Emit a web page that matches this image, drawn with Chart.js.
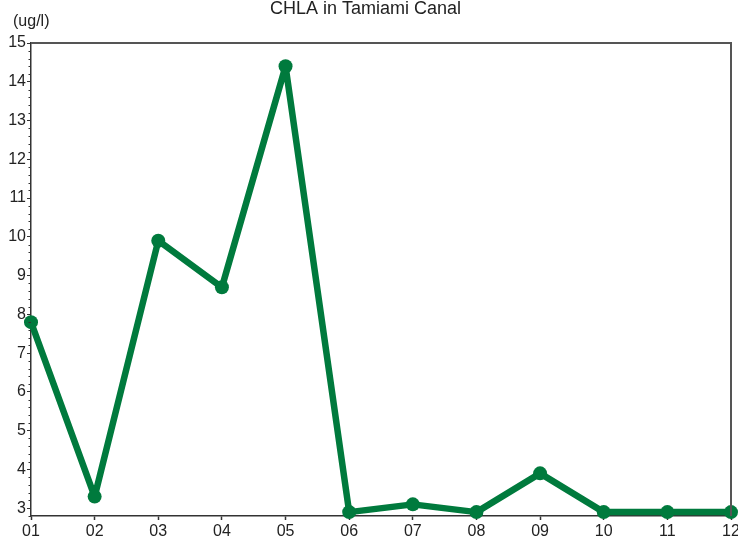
<!DOCTYPE html>
<html>
<head>
<meta charset="utf-8">
<script src="https://cdn.jsdelivr.net/npm/chart.js@4.4.1/dist/chart.umd.min.js"></script>
<style>
html,body{margin:0;padding:0;background:#fff;}
#wrap{width:738px;height:540px;}
</style>
</head>
<body>
<div id="wrap"><canvas id="c" width="738" height="540"></canvas></div>
<script>
const months = ["01","02","03","04","05","06","07","08","09","10","11","12"];
const chla = [7.8, 3.3, 9.9, 8.7, 14.4, 2.9, 3.1, 2.9, 3.9, 2.9, 2.9, 2.9];
const yTicks = [3,4,5,6,7,8,9,10,11,12,13,14,15];
const titleText = "CHLA in Tamiami Canal";
const unitText = "(ug/l)";

const frame = {
  id:'frame',
  afterDraw(chart){
    const {ctx, chartArea:a, scales:{y}} = chart;
    ctx.save();
    ctx.strokeStyle = '#555';
    ctx.lineWidth = 2;
    ctx.beginPath();
    ctx.moveTo(a.left, a.top);
    ctx.lineTo(a.right, a.top);
    ctx.lineTo(a.right, a.bottom);
    ctx.stroke();
    ctx.strokeStyle = '#333';
    ctx.lineWidth = 1;
    ctx.beginPath();
    for (let i = 14; i <= 75; i++) {
      const v = i / 5;
      if (Math.abs(v - Math.round(v)) < 1e-6) continue;
      const py = Math.round(y.getPixelForValue(v)) + 0.5;
      ctx.moveTo(a.left - 2.5, py);
      ctx.lineTo(a.left, py);
    }
    ctx.stroke();
    ctx.fillStyle = '#222';
    ctx.font = '16px "Liberation Sans", Arial, sans-serif';
    ctx.textAlign = 'left';
    ctx.textBaseline = 'middle';
    ctx.fillText(unitText, 13, 22);
    ctx.restore();
  }
};

new Chart(document.getElementById('c'), {
  type: 'line',
  data: {
    labels: months,
    datasets: [{
      data: chla,
      borderColor: '#007A3D',
      backgroundColor: '#007A3D',
      borderWidth: 6.5,
      borderJoinStyle: 'round',
      borderCapStyle: 'round',
      pointRadius: 7,
      pointHoverRadius: 7,
      pointBackgroundColor: '#007A3D',
      pointBorderWidth: 0,
      tension: 0,
      clip: false
    }]
  },
  options: {
    responsive: false,
    animation: false,
    events: [],
    layout: { padding: { left: 0, right: 7, top: 0, bottom: 0 } },
    plugins: {
      legend: { display: false },
      tooltip: { enabled: false },
      title: {
        display: true,
        text: titleText,
        color: '#222',
        font: { family: '"Liberation Sans", Arial, sans-serif', size: 18, weight: 'normal', lineHeight: 1.0 },
        padding: { top: 0, bottom: 25 }
      }
    },
    scales: {
      x: {
        type: 'category',
        offset: false,
        grid: { drawOnChartArea: false, drawTicks: true, tickLength: 4, tickColor: '#333', tickWidth: 1.5 },
        border: { display: true, color: '#333', width: 1.5 },
        ticks: {
          color: '#222', padding: 2, maxRotation: 0, autoSkip: false,
          font: { family: '"Liberation Sans", Arial, sans-serif', size: 16 }
        },
        afterFit(s){ s.height = 24; s.paddingLeft = 0; s.paddingRight = 0; }
      },
      y: {
        type: 'linear',
        min: 2.8,
        max: 15,
        afterBuildTicks(s){ s.ticks = yTicks.map(v => ({value: v})); },
        grid: { drawOnChartArea: false, drawTicks: true, tickLength: 4, tickColor: '#333', tickWidth: 1 },
        border: { display: true, color: '#333', width: 1.5 },
        ticks: {
          color: '#222', padding: 1,
          font: { family: '"Liberation Sans", Arial, sans-serif', size: 16 }
        },
        afterFit(s){ s.width = 31; s.paddingTop = 0; s.paddingBottom = 0; }
      }
    }
  },
  plugins: [frame]
});
</script>
</body>
</html>
